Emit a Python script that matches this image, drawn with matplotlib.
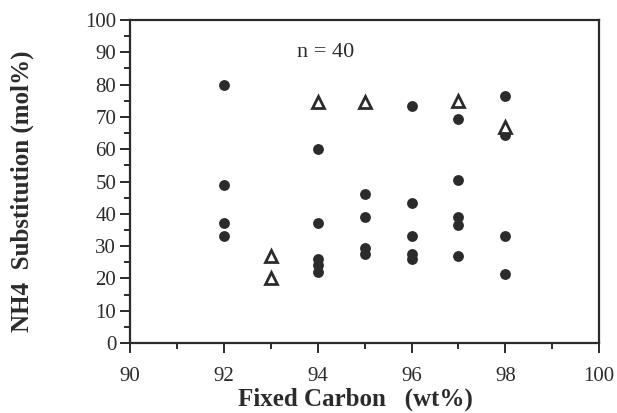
import matplotlib
matplotlib.use("Agg")
import matplotlib.pyplot as plt
from matplotlib.ticker import MultipleLocator

# Filled circles: Fixed Carbon (wt%) -> NH4 substitution values (mol%)
circle_pts = {
    92: [80, 49, 37, 33],
    94: [60, 37, 26, 24, 22],
    95: [46, 39, 29.5, 27.5],
    96: [73.5, 43.5, 33, 27.5, 26],
    97: [69.5, 50.5, 39, 36.5, 27],
    98: [76.5, 64.5, 33, 21.5],
}
# Open triangles
tri_x = [93, 93, 94, 95, 97, 98]
tri_y = [27, 20, 74.5, 74.5, 75, 67]

annotation = "n = 40"
x_label = "Fixed Carbon   (wt%)"
y_label = "NH4  Substitution (mol%)"

cx = [k for k, v in circle_pts.items() for _ in v]
cy = [y for v in circle_pts.values() for y in v]

ink = "#2b2b2b"
plt.rcParams['font.family'] = ['Liberation Serif', 'DejaVu Serif']

fig = plt.figure(figsize=(6.17, 4.13), dpi=100)
ax = fig.add_axes([0.211, 0.1695, 0.760, 0.782])

ax.plot(cx, cy, 'o', color=ink, markersize=7.8, markeredgewidth=0, zorder=3)
ax.plot(tri_x, tri_y, '^', markerfacecolor='white', markeredgecolor=ink,
        markersize=8.5, markeredgewidth=2.0, zorder=4)

ax.set_xlim(90, 100)
ax.set_ylim(0, 100)
ax.xaxis.set_major_locator(MultipleLocator(2))
ax.xaxis.set_minor_locator(MultipleLocator(1))
ax.yaxis.set_major_locator(MultipleLocator(10))
ax.yaxis.set_minor_locator(MultipleLocator(5))

for s in ax.spines.values():
    s.set_linewidth(1.6)
    s.set_color(ink)

ax.tick_params(axis='x', which='major', direction='out', length=7, width=1.4,
               color=ink, labelsize=15, labelcolor=ink, pad=10)
ax.tick_params(axis='x', which='minor', direction='out', length=4.5, width=1.4, color=ink)
ax.tick_params(axis='y', which='major', direction='out', length=7, width=1.4,
               color=ink, labelsize=15, labelcolor=ink, pad=3)
ax.tick_params(axis='y', which='minor', direction='out', length=4, width=1.4, color=ink)

ax.text(93.55, 90, annotation, fontsize=16, color=ink, va='center', ha='left')

ax.set_xlabel(x_label, fontsize=18, fontweight='bold', color=ink)
ax.set_ylabel(y_label, fontsize=18, fontweight='bold', color=ink)
ax.xaxis.set_label_coords(0.48, -0.137)
ax.yaxis.set_label_coords(-0.205, 0.47)

fig.savefig("out.png", dpi=100)
